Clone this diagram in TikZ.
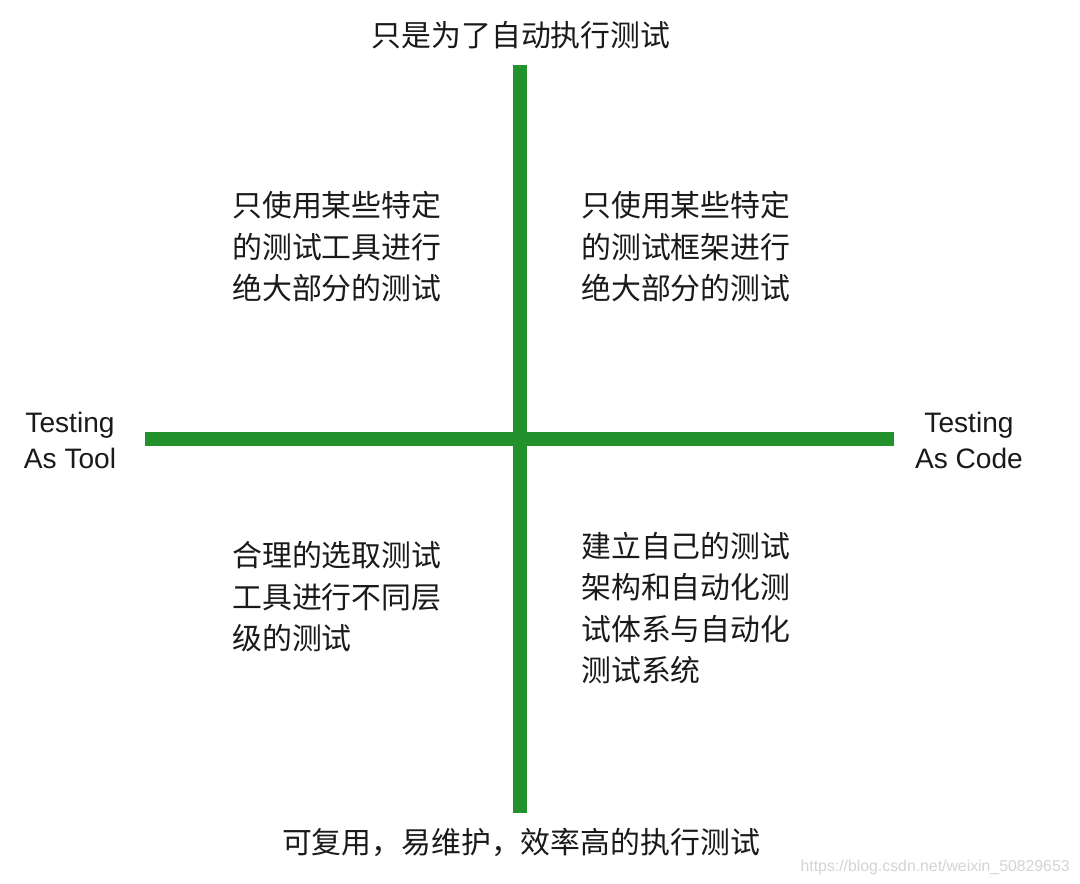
\documentclass[tikz,border=0pt]{standalone}
\usepackage{fontspec}
\setmainfont{Liberation Sans}
\newfontfamily\cjk{Noto Sans CJK SC}
\usepackage{tikz}
\usetikzlibrary{positioning}
\definecolor{axisgreen}{HTML}{24922C}
\definecolor{labelink}{HTML}{1A1A1A}
\definecolor{markgray}{HTML}{D4D4D4}

\begin{document}
\begin{tikzpicture}[x=0.02cm,y=-0.02cm,line join=round,
  text=labelink,
  axis/.style={draw=axisgreen,line width=0.28cm,line cap=butt},
  ends/.style={font=\cjk\fontsize{17}{20}\selectfont,inner sep=0pt},
  quad/.style={font=\cjk\fontsize{17}{23.6}\selectfont,inner sep=0pt,align=left,anchor=west},
  side/.style={font=\fontsize{16}{20.5}\selectfont,inner sep=0pt,align=center}]
\path[use as bounding box] (0,0) rectangle (1080,884);
\fill[white] (0,0) rectangle (1080,884);
\coordinate (ytop) at (520,65);
\coordinate (ybot) at (520,813);
\coordinate (xleft) at (145,439);
\coordinate (xright) at (894,439);
% 坐标轴
\draw[axis] (ytop)--(ybot);
\draw[axis] (xleft)--(xright);
% 两端说明
\node[ends] (toplabel) at (521,35) {只是为了自动执行测试};
\node[ends] (botlabel) at (521,842) {可复用，易维护，效率高的执行测试};
\node[side] (toollabel) at (70,440) {Testing\\As Tool};
\node[side] (codelabel) at (969,440) {Testing\\As Code};
% 四个象限
\node[quad] (qtl) at (232,247) {只使用某些特定\\的测试工具进行\\绝大部分的测试};
\node[quad] (qtr) at (581,247) {只使用某些特定\\的测试框架进行\\绝大部分的测试};
\node[quad] (qbl) at (232,597) {合理的选取测试\\工具进行不同层\\级的测试};
\node[quad] (qbr) at (581,608) {建立自己的测试\\架构和自动化测\\试体系与自动化\\测试系统};
\node[anchor=east,inner sep=0pt,text=markgray,font=\fontsize{9}{11}\selectfont] (mark) at (1070,867)
  {https://blog.csdn.net/weixin\_50829653};
\end{tikzpicture}
\end{document}
